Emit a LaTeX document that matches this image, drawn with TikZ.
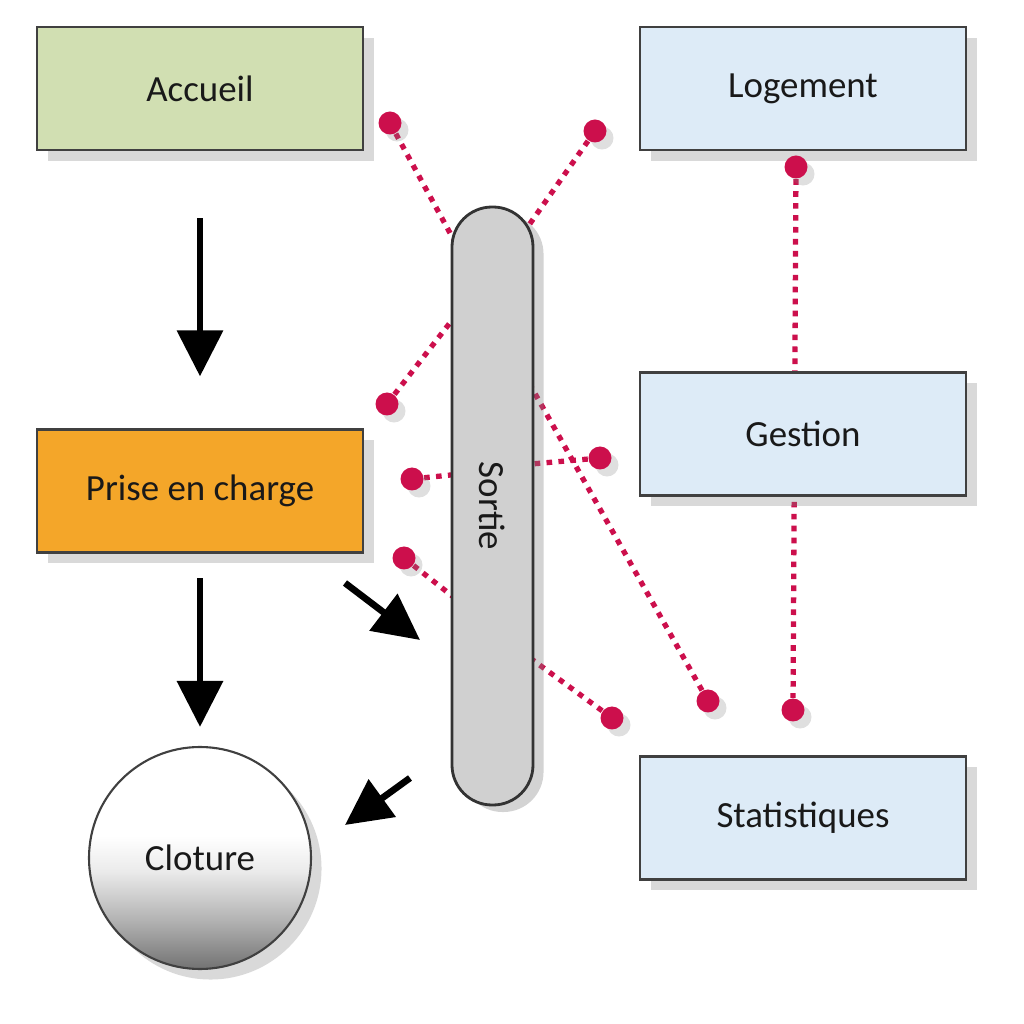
\documentclass[tikz,border=0pt]{standalone}
\usepackage{fontspec}
\setmainfont{Carlito}
\usetikzlibrary{positioning,arrows.meta,shadows}
\definecolor{vert}{HTML}{D1DFB2}
\definecolor{bleu}{HTML}{DDEBF7}
\definecolor{orange}{HTML}{F4A629}
\definecolor{cramoisi}{HTML}{CC0F4C}
\definecolor{gris}{HTML}{D0D0D0}
\pgfdeclareverticalshading{cloturegrad}{100bp}{color(0bp)=(black!58); color(25bp)=(black!55);
  color(36bp)=(black!30); color(47bp)=(black!8); color(55bp)=(white); color(100bp)=(white)}
\pgfdeclarelayer{fond}
\pgfsetlayers{fond,main}

\begin{document}
\begin{tikzpicture}[node distance = 2cm,
  box/.style={draw=black!75, line width=0.8pt, minimum width=3.26cm, minimum height=1.23cm,
    text=black!90, font=\fontsize{10.5}{12}\selectfont,
    drop shadow={shadow xshift=3pt, shadow yshift=-3pt, opacity=0.3}},
  dot/.style={circle, fill=cramoisi, inner sep=0pt, minimum size=0.23cm,
    drop shadow={shadow xshift=2pt, shadow yshift=-2pt, opacity=0.25}},
  link/.style={cramoisi, line width=1.5pt, dash pattern=on 1.6pt off 1.8pt},
  bigarrow/.style={line width=1.9pt, -{Triangle[length=0.46cm, width=0.45cm]}}]
\useasboundingbox (0,0) rectangle (10.24,10.24);

\node[box, fill=vert] (accueil) at (2.00,9.355) {Accueil};
\node[box, fill=bleu] (logement) at (8.03,9.355) {Logement};
\node[box, fill=bleu] (gestion) [below=2.2cm of logement] {Gestion};
\node[box, fill=bleu] (stats) [below=2.58cm of gestion] {Statistiques};
\node[box, fill=orange] (prise) [below=2.77cm of accueil] {Prise en charge};
\node[draw=black!80, line width=0.8pt, fill=gris, rounded corners=0.4cm,
  minimum width=0.81cm, minimum height=5.98cm, text=black!90, font=\fontsize{10.5}{12}\selectfont,
  drop shadow={shadow xshift=3pt, shadow yshift=-2pt, opacity=0.35}]
  (sortie) at (4.925,5.18) {\rotatebox{-90}{Sortie}};
\node[circle, draw=black!75, line width=0.6pt, minimum size=2.22cm,
  shading=cloturegrad, text=black!90, font=\fontsize{10.5}{12}\selectfont,
  drop shadow={shadow xshift=3pt, shadow yshift=-3pt, opacity=0.3}]
  (cloture) at (2.00,1.66) {Cloture};

% points
\node[dot] (d1) at (3.90,9.01) {};
\node[dot] (d2) at (5.95,8.93) {};
\node[dot] (d3) at (3.87,6.20) {};
\node[dot] (d4) at (4.12,5.45) {};
\node[dot] (d5) at (6.00,5.66) {};
\node[dot] (d6) at (4.04,4.66) {};
\node[dot] (d7) at (7.08,3.23) {};
\node[dot] (d8) at (6.12,3.06) {};
\node[dot] (d9) at (7.96,8.57) {};
\node[dot] (d10) at (7.93,3.14) {};

\coordinate (s1) at (4.62,7.69);
\coordinate (s2) at (5.15,7.79);
\coordinate (s3) at (4.70,7.27);
\coordinate (s4) at (4.70,5.51);
\coordinate (s5) at (5.20,5.59);
\coordinate (s6) at (4.70,4.14);
\coordinate (s7) at (5.15,6.66);
\coordinate (s8) at (5.15,3.77);

\begin{pgfonlayer}{fond}
\draw [link] (d1) -- (s1);
\draw [link] (d2) -- (s2);
\draw [link] (d3) -- (s3);
\draw [link] (d4) -- (s4);
\draw [link] (d5) -- (s5);
\draw [link] (d6) -- (s6);
\draw [link] (d7) -- (s7);
\draw [link] (d8) -- (s8);
\draw [link] (d9) -- (d10);
\end{pgfonlayer}

% fleches
\coordinate (f1) at (3.45,4.41);
\coordinate (f2) at (4.20,3.84);
\coordinate (f3) at (4.10,2.46);
\coordinate (f4) at (3.45,1.99);
\draw [bigarrow, shorten <=0.67cm, shorten >=0.52cm] (accueil) -- (prise);
\draw [bigarrow, shorten <=0.24cm, shorten >=0.19cm] (prise) -- (cloture);
\draw [bigarrow] (f1) -- (f2);
\draw [bigarrow] (f3) -- (f4);
\end{tikzpicture}
\end{document}
